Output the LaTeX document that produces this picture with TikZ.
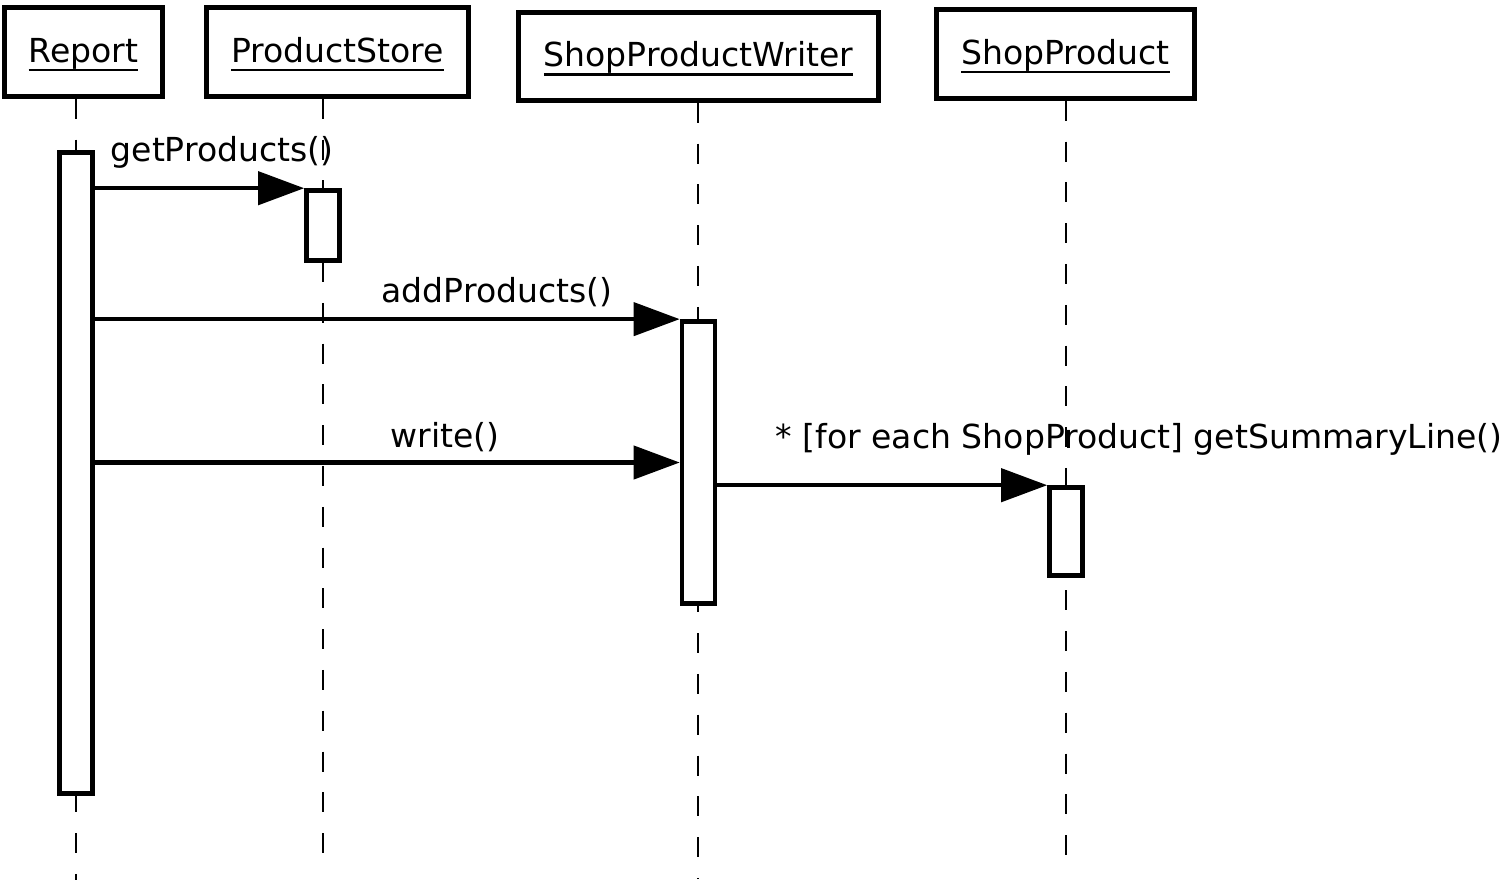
\documentclass[tikz,border=0pt]{standalone}
\usepackage{fontspec}
\setmainfont{DejaVu Sans}
\usetikzlibrary{arrows.meta,positioning,calc}

\newcommand{\labelfont}{\fontsize{9.4pt}{11pt}\selectfont}
\newsavebox{\namebox}
\newcommand{\objname}[1]{\sbox{\namebox}{#1}\rlap{\rule[-2.6pt]{\wd\namebox}{0.65pt}}\usebox{\namebox}}

\tikzset{
  objbox/.style={draw, line width=1.3pt, fill=white, inner sep=0pt,
    text height=0.30cm, text depth=0.10cm, font=\labelfont},
  actbox/.style={draw, line width=1.3pt, fill=white, inner sep=0pt, minimum width=0.33cm},
  lifeline/.style={line width=0.6pt, dash pattern=on 5.7pt off 5.9pt},
  msg/.style={line width=1.2pt, -{Triangle[length=0.46cm,width=0.33cm]}},
  msglabel/.style={inner sep=0pt, anchor=base west, font=\labelfont},
}

\begin{document}
\begin{tikzpicture}[x=0.01cm, y=-0.01cm]
    \useasboundingbox (0,0) rectangle (1504,884);
    % 对象
    \node[objbox, minimum width=1.58cm, minimum height=0.89cm] (report) at (83.5,52) {\objname{Report}};
    \node[objbox, minimum width=2.62cm, minimum height=0.89cm] (store) at (337.5,52) {\objname{ProductStore}};
    \node[objbox, minimum width=3.60cm, minimum height=0.88cm] (writer) at (698.5,56.5) {\objname{ShopProductWriter}};
    \node[objbox, minimum width=2.58cm, minimum height=0.89cm] (product) at (1065.5,54) {\objname{ShopProduct}};

    % 生命线
    \coordinate (reportEnd) at (76,880);
    \coordinate (storeEnd) at (323,866);
    \coordinate (writerEnd) at (698,878);
    \coordinate (productEnd) at (1066,872);
    \draw[lifeline] (report.south -| reportEnd) -- (reportEnd);
    \draw[lifeline] (store.south -| storeEnd) -- (storeEnd);
    \draw[lifeline] (writer.south -| writerEnd) -- (writerEnd);
    \draw[lifeline] (product.south -| productEnd) -- (productEnd);

    % 激活条
    \node[actbox, minimum height=6.41cm] (reportAct) at (76,473) {};
    \node[actbox, minimum height=0.70cm] (storeAct) at (323,225.5) {};
    \node[actbox, minimum height=2.82cm] (writerAct) at (698.5,462.5) {};
    \node[actbox, minimum height=0.88cm] (productAct) at (1066,531.5) {};

    % 消息
    \draw[msg] (storeAct.north west -| reportAct.east) -- (storeAct.north west);
    \draw[msg] (writerAct.north west -| reportAct.east) -- (writerAct.north west);
    \draw[msg] (writerAct.west -| reportAct.east) -- (writerAct.west);
    \draw[msg] (productAct.north west -| writerAct.east) -- (productAct.north west);

    \node[msglabel] (getLbl) at (110,161) {getProducts()};
    \node[msglabel] (addLbl) at (381,302) {addProducts()};
    \node[msglabel] (writeLbl) at (390,447) {write()};
    \node[msglabel] (summaryLbl) at (775,448) {* [for each ShopProduct] getSummaryLine()};
\end{tikzpicture}
\end{document}
